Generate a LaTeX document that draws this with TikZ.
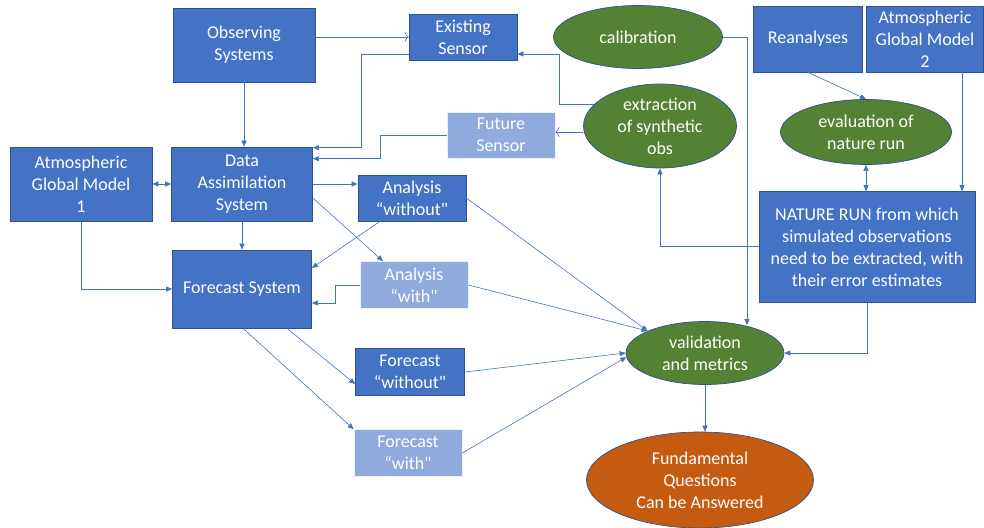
\documentclass[tikz,border=0pt]{standalone}
\usepackage{fontspec}
\setmainfont{Carlito}[Ligatures=TeXOff]
\usetikzlibrary{arrows.meta,shapes.geometric,calc}
\definecolor{dblue}{HTML}{4472C4}
\definecolor{lblue}{HTML}{8FAADC}
\definecolor{bord}{HTML}{2F528F}
\definecolor{gr}{HTML}{548235}
\definecolor{og}{HTML}{C55A11}
\definecolor{ln}{HTML}{4472C4}
\begin{document}
\begin{tikzpicture}[x=1pt,y=-1pt,
  every node/.style={font=\fontsize{18}{22}\selectfont, text=white, align=center, inner sep=0pt},
  dbox/.style={rectangle, fill=dblue, draw=bord, line width=0.7pt},
  lbox/.style={rectangle, fill=lblue, draw=white!85!lblue, line width=0.7pt},
  gell/.style={ellipse, fill=gr, draw=bord, line width=0.7pt},
  oell/.style={ellipse, fill=og, draw=bord, line width=0.7pt},
  sz/.style 2 args={minimum width=#1, minimum height=#2},
  arr/.style={draw=ln, line width=0.6pt, -{Triangle[length=6pt,width=5pt]}},
  darr/.style={draw=ln, line width=0.6pt, {Triangle[length=6pt,width=5pt]}-{Triangle[length=6pt,width=5pt]}},
  oarr/.style={draw=ln, line width=0.6pt, -{To[length=4pt,width=10pt]}}
]
\useasboundingbox (0,0) rectangle (984,527);
\fill[white] (0,0) rectangle (984,527);

\node[dbox, sz={142pt}{74pt}] (os) at (244,45) {Observing\\Systems};
\node[dbox, sz={108pt}{46pt}] (es) at (463,37) {Existing\\Sensor};
\node[gell, sz={169pt}{63pt}] (cal) at (638,37) {calibration};
\node[dbox, sz={109pt}{66pt}] (rea) at (808,39) {Reanalyses};
\node[dbox, sz={117pt}{66pt}] (agm2) at (925,39) {Atmospheric\\Global Model\\2};
\node[gell, sz={153pt}{84pt}] (ext) at (660,126) {extraction\\of synthetic\\obs};
\node[lbox, sz={108pt}{46pt}] (fs) at (501,135) {Future\\Sensor};
\node[gell, sz={171pt}{65pt}] (eval) at (866,132) {evaluation of\\nature run};
\node[dbox, sz={216pt}{111pt}] (nr) at (867,247) {NATURE RUN from which\\simulated observations\\need to be extracted, with\\their error estimates};
\node[dbox, sz={142pt}{74pt}] (agm1) at (81,184) {Atmospheric\\Global Model\\1};
\node[dbox, sz={141pt}{74pt}] (das) at (242,184) {Data\\Assimilation\\System};
\node[dbox, sz={108pt}{46pt}] (aw) at (412,198) {Analysis\\“without"};
\node[lbox, sz={108pt}{47pt}] (aws) at (414,285) {Analysis\\“with"};
\node[dbox, sz={139pt}{78pt}] (fcs) at (242,289) {Forecast System};
\node[dbox, sz={109pt}{47pt}] (fw) at (410,372) {Forecast\\“without"};
\node[lbox, sz={108pt}{47pt}] (fws) at (408,453) {Forecast\\“with"};
\node[gell, sz={158pt}{63pt}] (val) at (705,353) {validation\\and metrics};
\node[oell, sz={227pt}{96pt}] (fq) at (700,480) {Fundamental\\Questions\\Can be Answered};

% connectors
\draw[oarr] (es.west -| os.east) -- (es.west);
\draw[arr] ([yshift=-17pt]es.west) -- ++(-47,0) |- ([yshift=-1pt]das.north east);
\draw[arr] (fs.west) -- ++(-66,0) |- ([yshift=-12pt]das.north east);
\draw[arr] (os.south) -- (os.south |- das.north);
\draw[darr] (agm1.east) -- (das.west);
\draw[arr] (das.east) -- (das.east -| aw.west);
\draw[arr] ([yshift=-14pt]das.east) -- ([xshift=-31pt]aws.north);
\draw[arr] ([xshift=-32pt]aw.south) -- ([yshift=21pt]fcs.east);
\draw[arr] (das.south) -- (das.south |- fcs.north);
\draw[arr] (agm1.south) |- (fcs.west);
\draw[arr] (aws.west) -- ++(-24,0) |- ([yshift=-14pt]fcs.east);
\draw[arr] ([xshift=1pt]fcs.south) -- (fws.north west);
\draw[arr] ([xshift=45pt]fcs.south) -- ([yshift=-12pt]fw.west);
\draw[arr] (aw.east) -- (val.159);
\draw[arr] (aws.east) -- (val.159);
\draw[arr] (fw.east) -- (val.west);
\draw[arr] (fws.east) -- (val.183);
\draw[arr] (cal.east) -| ($(val.north)+(42,4)$);
\draw[arr] (nr.south) |- (val.east);
\draw[arr] (val.south) -- (val.south |- fq.north);
\draw[arr] (ext.162) -- ++(-35,0) |- ([yshift=-17pt]es.east);
\draw[oarr] ([yshift=-6pt]ext.west) -- ([yshift=3pt]fs.east);
\draw[arr] ([yshift=1pt]nr.west) -| (ext.south);
\draw[arr] (rea.south) -- (eval.north);
\draw[darr] (eval.south) -- (eval.south |- nr.north);
\draw[arr] ([xshift=37pt]agm2.south) -- ([xshift=37pt]agm2.south |- nr.north);
\end{tikzpicture}
\end{document}
